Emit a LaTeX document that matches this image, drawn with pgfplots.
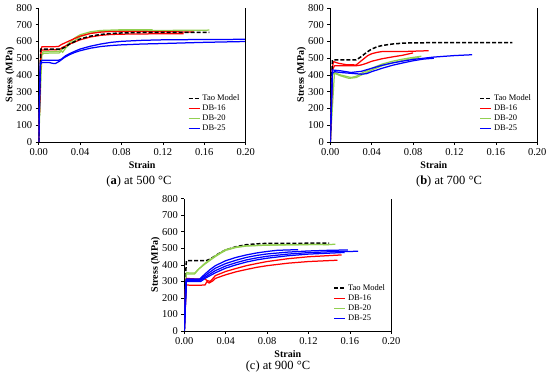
\documentclass[border=0pt]{standalone}
\usepackage{fontspec}
\setmainfont{Liberation Serif}
\usepackage{pgfplots}
\pgfplotsset{compat=1.18}
\definecolor{dbred}{RGB}{255,0,0}
\definecolor{dbgreen}{RGB}{146,208,80}
\definecolor{dbblue}{RGB}{0,0,255}
\pgfplotsset{
 legend image code/.code={\draw[#1] (0pt,0pt) -- (11pt,0pt);},
 sub/.style={
  scale only axis, width=207pt, height=134pt,
  xmin=0, xmax=0.2, ymin=0, ymax=800,
  axis x line*=bottom, axis y line*=left,
  axis line style={-, line width=0.6pt, black},
  tick align=outside, major tick length=3pt,
  tick style={line width=0.6pt, black},
  xtick={0,0.04,0.08,0.12,0.16,0.2},
  ytick={0,100,200,300,400,500,600,700,800},
  scaled x ticks=false,
  xticklabel style={/pgf/number format/.cd, fixed, fixed zerofill, precision=2},
  /pgf/number format/assume math mode=true,
  ticklabel style={font=\fontsize{10.5}{12}\selectfont},
  xlabel={\textbf{Strain}}, ylabel={\textbf{Stress (MPa)}},
  label style={font=\fontsize{10}{12}\selectfont},
  xlabel style={at={(axis description cs:0.5,-0.172)}, anchor=center},
  ylabel style={at={(axis description cs:-0.139,0.5)}, anchor=center},
  legend style={draw=none, fill=none, font=\fontsize{8.5}{10}\selectfont, at={(axis description cs:0.72,0.37)}, anchor=north west, row sep=-1pt, inner sep=0pt},
  legend cell align=left,
  after end axis/.code={\draw[line width=0.6pt] (rel axis cs:1,0) -- (rel axis cs:1,1);},
 },
 tao/.style={black, line width=1.5pt, dash pattern=on 4pt off 2pt},
 rr/.style={dbred, line width=1.25pt, line join=round},
 gg/.style={dbgreen, line width=1.25pt, line join=round},
 bb/.style={dbblue, line width=1.25pt, line join=round},
}
\begin{document}
\begin{tikzpicture}
\path[use as bounding box] (0pt,0pt) rectangle (550pt,381pt);
% ---------------- (a) 500 C
\begin{axis}[sub, at={(38.7pt,239pt)}, anchor=south west]
\addlegendimage{tao}\addlegendentry{Tao Model}
\addlegendimage{rr}\addlegendentry{DB-16}
\addlegendimage{gg}\addlegendentry{DB-20}
\addlegendimage{bb}\addlegendentry{DB-25}
\addplot[gg, forget plot] coordinates {(0,0)(0.002,500)(0.004,538)(0.01,540)(0.02,542)(0.025,565)(0.03,595)(0.035,622)(0.04,640)(0.05,658)(0.06,666)(0.08,670)(0.11,670)};
\addplot[gg, forget plot] coordinates {(0,0)(0.003,520)(0.005,530)(0.02,532)(0.022,545)(0.023,535)(0.026,560)(0.03,585)(0.04,628)(0.05,650)(0.06,660)(0.08,664)(0.12,666)(0.165,668)};
\addplot[rr, forget plot] coordinates {(0,0)(0.002,540)(0.003,568)(0.01,568)(0.019,570)(0.022,582)(0.03,605)(0.04,632)(0.05,648)(0.06,656)(0.07,660)(0.09,660)(0.12,658)(0.15,657)};
\addplot[rr, forget plot] coordinates {(0,0)(0.002,530)(0.003,550)(0.01,550)(0.02,552)(0.023,565)(0.03,585)(0.04,610)(0.05,627)(0.06,637)(0.07,642)(0.09,645)(0.12,646)(0.14,646)};
\addplot[tao, forget plot] coordinates {(0,0)(0.001,300)(0.002,555)(0.021,555)(0.025,565)(0.03,585)(0.04,615)(0.05,632)(0.06,642)(0.07,648)(0.08,651)(0.1,654)(0.165,655)};
\addplot[bb, forget plot] coordinates {(0,0)(0.0015,470)(0.003,488)(0.01,488)(0.019,488)(0.022,495)(0.026,515)(0.03,528)(0.035,542)(0.04,555)(0.05,572)(0.06,585)(0.07,595)(0.08,601)(0.1,607)(0.12,610)(0.16,612)(0.2,613)};
\addplot[bb, forget plot] coordinates {(0,0)(0.0015,460)(0.003,475)(0.01,475)(0.013,470)(0.016,468)(0.02,482)(0.025,505)(0.03,522)(0.035,535)(0.04,545)(0.05,560)(0.06,570)(0.07,576)(0.08,580)(0.1,585)(0.12,588)(0.16,595)(0.2,600)};
\end{axis}
% ---------------- (b) 700 C
\begin{axis}[sub, at={(330.3pt,239pt)}, anchor=south west]
\addlegendimage{tao}\addlegendentry{Tao Model}
\addlegendimage{rr}\addlegendentry{DB-16}
\addlegendimage{gg}\addlegendentry{DB-20}
\addlegendimage{bb}\addlegendentry{DB-25}
\addplot[gg, forget plot] coordinates {(0,0)(0.002,400)(0.004,415)(0.01,400)(0.02,385)(0.025,392)(0.03,410)(0.04,440)(0.05,465)(0.06,482)(0.07,495)(0.08,505)(0.088,512)};
\addplot[gg, forget plot] coordinates {(0,0)(0.004,410)(0.01,395)(0.018,380)(0.025,385)(0.03,400)(0.04,430)(0.05,455)(0.06,472)(0.07,487)(0.08,498)(0.086,505)};
\addplot[rr, forget plot] coordinates {(0,0)(0.002,440)(0.003,480)(0.008,470)(0.015,462)(0.025,460)(0.028,475)(0.032,495)(0.036,515)(0.04,527)(0.045,535)(0.05,540)(0.06,541)(0.075,541)(0.085,543)(0.095,545)};
\addplot[rr, forget plot] coordinates {(0,0)(0.002,430)(0.004,455)(0.015,455)(0.025,455)(0.03,460)(0.035,470)(0.04,482)(0.05,497)(0.06,508)(0.07,518)(0.075,525)(0.08,532)};
\addplot[tao, forget plot] coordinates {(0,0)(0.001,300)(0.002,490)(0.025,490)(0.03,510)(0.035,535)(0.04,555)(0.045,568)(0.05,576)(0.06,585)(0.07,590)(0.08,592)(0.1,593)(0.176,593)};
\addplot[bb, forget plot] coordinates {(0,0)(0.001,200)(0.002,430)(0.01,425)(0.02,415)(0.03,422)(0.04,440)(0.05,458)(0.06,472)(0.07,483)(0.08,493)(0.09,500)(0.1,507)(0.12,516)(0.137,521)};
\addplot[bb, forget plot] coordinates {(0,0)(0.002,410)(0.004,420)(0.01,415)(0.02,410)(0.03,405)(0.035,408)(0.04,420)(0.05,440)(0.06,458)(0.07,472)(0.08,485)(0.09,495)(0.1,500)};
\end{axis}
% ---------------- (c) 900 C
\begin{axis}[sub, height=132.3pt, at={(184.3pt,50pt)}, anchor=south west]
\addlegendimage{tao}\addlegendentry{Tao Model}
\addlegendimage{rr}\addlegendentry{DB-16}
\addlegendimage{gg}\addlegendentry{DB-20}
\addlegendimage{bb}\addlegendentry{DB-25}
\addplot[tao, forget plot] coordinates {(0,0)(0.001,300)(0.002,425)(0.021,425)(0.025,435)(0.03,455)(0.035,475)(0.04,490)(0.05,510)(0.06,522)(0.07,527)(0.08,530)(0.14,531)};
\addplot[gg, forget plot] coordinates {(0,0)(0.001,200)(0.002,352)(0.01,350)(0.013,370)(0.017,390)(0.02,405)(0.025,428)(0.03,450)(0.035,470)(0.04,488)(0.05,505)(0.06,514)(0.08,519)(0.1,521)(0.146,524)};
\addplot[gg, forget plot] coordinates {(0,0)(0.002,345)(0.01,345)(0.014,375)(0.02,410)(0.025,432)(0.03,455)(0.04,492)(0.05,508)(0.06,515)(0.08,520)(0.12,523)(0.14,522)};
\addplot[rr, forget plot] coordinates {(0,0)(0.001,250)(0.002,318)(0.01,315)(0.02,315)(0.022,305)(0.025,300)(0.028,320)(0.03,335)(0.04,360)(0.05,378)(0.06,395)(0.07,408)(0.08,420)(0.1,437)(0.12,449)(0.152,460)};
\addplot[rr, forget plot] coordinates {(0,0)(0.002,278)(0.01,276)(0.02,278)(0.022,300)(0.024,290)(0.028,305)(0.03,318)(0.04,340)(0.05,358)(0.06,372)(0.07,385)(0.08,395)(0.1,410)(0.12,420)(0.148,428)};
\addplot[bb, forget plot] coordinates {(0,0)(0.001,250)(0.002,315)(0.015,315)(0.02,345)(0.025,372)(0.03,395)(0.04,425)(0.05,445)(0.06,460)(0.07,472)(0.08,481)(0.09,488)(0.11,492)};
\addplot[bb, forget plot] coordinates {(0,0)(0.002,310)(0.015,310)(0.02,335)(0.03,380)(0.04,408)(0.05,428)(0.06,445)(0.07,457)(0.08,466)(0.1,477)(0.12,484)(0.14,488)(0.158,490)};
\addplot[bb, forget plot] coordinates {(0,0)(0.002,305)(0.015,305)(0.02,325)(0.03,365)(0.04,393)(0.05,413)(0.06,430)(0.07,442)(0.08,452)(0.1,465)(0.12,474)(0.14,479)(0.168,482)};
\addplot[bb, forget plot] coordinates {(0,0)(0.002,300)(0.016,300)(0.02,318)(0.03,352)(0.04,380)(0.05,400)(0.06,417)(0.07,430)(0.08,440)(0.1,455)(0.12,465)(0.155,475)};
\end{axis}
% captions
\node[font=\fontsize{12.5}{14}\selectfont] at (139pt,199.3pt) {(\textbf{a}) at 500 °C};
\node[font=\fontsize{12.5}{14}\selectfont] at (449pt,199.3pt) {(\textbf{b}) at 700 °C};
\node[font=\fontsize{12.5}{14}\selectfont] at (278pt,14.3pt) {(c) at 900 °C};
\end{tikzpicture}
\end{document}
